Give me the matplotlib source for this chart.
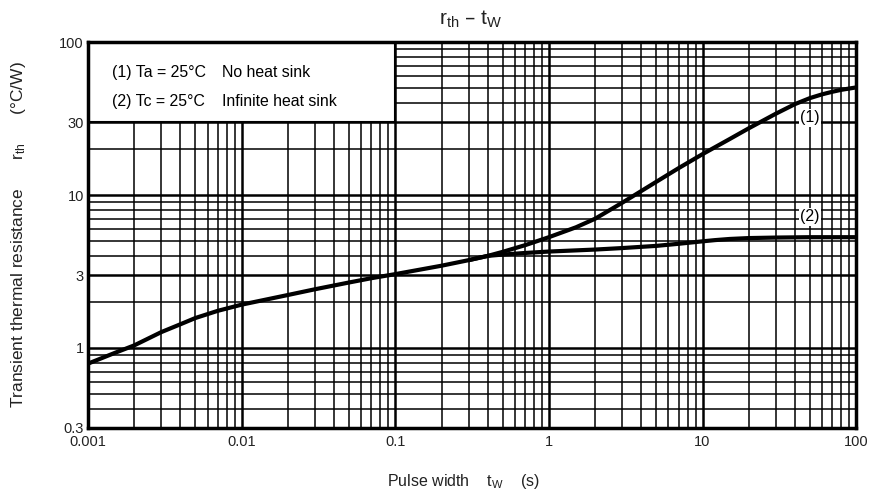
import numpy as np
import matplotlib
matplotlib.use('Agg')
import matplotlib.pyplot as plt
from matplotlib.patches import Rectangle
from matplotlib.ticker import LogLocator, NullFormatter

plt.rcParams['font.family'] = ['Liberation Sans', 'DejaVu Sans']

# 曲線 (1) Ta = 25°C 放熱板なし
t1 = [0.001, 0.0015, 0.002, 0.003, 0.004, 0.005, 0.007, 0.01, 0.02, 0.03,
      0.05, 0.07, 0.1, 0.2, 0.3, 0.4, 0.5, 0.7, 1, 1.5, 2, 3, 5, 7, 10,
      15, 20, 30, 40, 50, 60, 70, 80, 100]
r1 = [0.79, 0.93, 1.04, 1.27, 1.43, 1.57, 1.75, 1.92, 2.22, 2.42,
      2.68, 2.86, 3.04, 3.45, 3.75, 4.0, 4.25, 4.7, 5.3, 6.15, 7.0, 8.9, 12.2, 15.0, 18.5,
      23.2, 27.3, 34.0, 39.3, 43.0, 45.5, 47.3, 48.7, 50.5]

# 曲線 (2) Tc = 25°C 無限大放熱板
t2 = [0.3, 0.4, 0.5, 0.7, 1, 2, 3, 5, 7, 10, 12, 15, 20, 30, 50, 100]
r2 = [3.75, 4.0, 4.08, 4.18, 4.27, 4.4, 4.5, 4.65, 4.8, 4.98, 5.07, 5.16, 5.23, 5.27, 5.3, 5.3]

x_ticks = [0.001, 0.01, 0.1, 1, 10, 100]
x_labels = ['0.001', '0.01', '0.1', '1', '10', '100']
y_ticks = [0.3, 1, 3, 10, 30, 100]
y_labels = ['0.3', '1', '3', '10', '30', '100']

fig = plt.figure(figsize=(8.71, 4.99), dpi=100)
ax = fig.add_axes([0.101, 0.1423, 0.882, 0.7735])

ax.set_xscale('log')
ax.set_yscale('log')
ax.set_xlim(0.001, 100)
ax.set_ylim(0.3, 100)

ax.xaxis.set_minor_locator(LogLocator(base=10, subs=range(2, 10)))
ax.yaxis.set_minor_locator(LogLocator(base=10, subs=range(2, 10)))
ax.xaxis.set_minor_formatter(NullFormatter())
ax.yaxis.set_minor_formatter(NullFormatter())
ax.set_xticks(x_ticks)
ax.set_xticklabels(x_labels)
ax.set_yticks(y_ticks)
ax.set_yticklabels(y_labels)
ax.tick_params(which='both', length=0, labelsize=10.5, colors='#222222')
ax.tick_params(axis='x', pad=5)
ax.tick_params(axis='y', pad=3)

ax.set_axisbelow(True)
ax.grid(True, which='major', color='black', linewidth=1.8)
ax.grid(True, which='minor', color='black', linewidth=1.1)

for sp in ax.spines.values():
    sp.set_linewidth(2.5)

# 条件の説明枠
ax.add_patch(Rectangle((0.001, 30), 0.1 - 0.001, 100 - 30, facecolor='white',
                       edgecolor='black', linewidth=1.5, zorder=2))
fs = 11.4
ax.text(0.00143, 63, '(1) Ta = 25°C', fontsize=fs, va='center', zorder=4)
ax.text(0.0074, 63, 'No heat sink', fontsize=fs, va='center', zorder=4)
ax.text(0.00143, 41, '(2) Tc = 25°C', fontsize=fs, va='center', zorder=4)
ax.text(0.0074, 41, 'Infinite heat sink', fontsize=fs, va='center', zorder=4)

ax.plot(t1, r1, color='black', linewidth=3, solid_capstyle='butt', zorder=3)
ax.plot(t2, r2, color='black', linewidth=3, solid_capstyle='butt', zorder=3)

box = dict(facecolor='white', edgecolor='none', pad=1.0)
ax.text(50, 32, '(1)', fontsize=fs, ha='center', va='center', bbox=box, zorder=4)
ax.text(50, 7.2, '(2)', fontsize=fs, ha='center', va='center', bbox=box, zorder=4)

fig.text(0.541, 0.962, r'r$\mathregular{_{th}}$ – t$\mathregular{_{W}}$',
         fontsize=15, ha='center', va='center', color='#222222')
fig.text(0.532, 0.035, r'Pulse width    t$\mathregular{_W}$    (s)',
         fontsize=11.5, ha='center', va='center', color='#222222')
fig.text(0.021, 0.53, r'Transient thermal resistance      r$\mathregular{_{th}}$      (°C/W)',
         fontsize=12.5, ha='center', va='center', rotation=90, color='#222222')

fig.savefig('out.png', dpi=100)
